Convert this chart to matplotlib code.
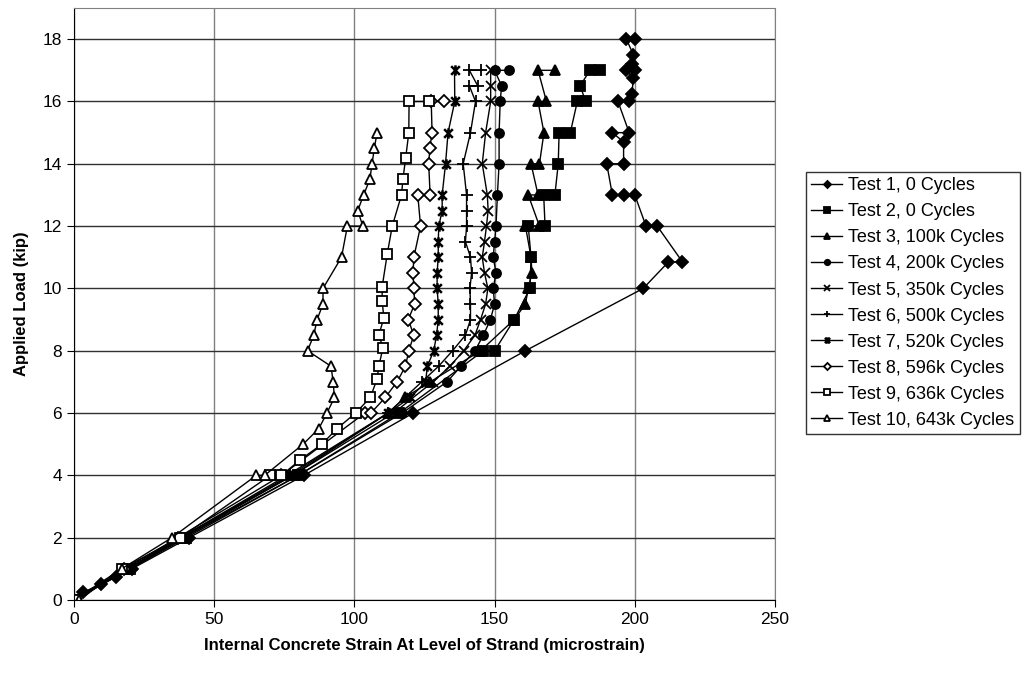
import matplotlib
matplotlib.use('Agg')
import matplotlib.pyplot as plt
from matplotlib.path import Path

plt.rcParams['font.family'] = ['Liberation Sans', 'DejaVu Sans']

# strain (microstrain) and load (kip) for each test
t1_strain = [0, 3.3, 9.6, 15, 20.6, 41, 82, 121, 161, 203, 212, 217, 208, 204, 200, 196, 192, 190, 196, 196, 192, 198, 194, 198, 199, 199.5, 197, 200, 199, 199.5, 197, 200]
t1_load = [0, 0.25, 0.5, 0.75, 1, 2, 4, 6, 8, 10, 10.85, 10.85, 12, 12, 13, 13, 13, 14, 14, 14.7, 15, 15, 16, 16, 16.25, 16.75, 17, 17, 17.2, 17.5, 18, 18]

t2_strain = [0, 20, 40, 80, 116, 146, 150, 157, 162.6, 163, 162, 168, 167.5, 171.5, 172.7, 173, 177, 179.5, 182.5, 180.5, 184, 187.5]
t2_load = [0, 1, 2, 4, 6, 8, 8, 9, 10, 11, 12, 12, 13, 13, 14, 15, 15, 16, 16, 16.5, 17, 17]

t3_strain = [0, 19, 39, 78, 112, 118, 127, 145, 157, 161, 162, 163.3, 163, 161, 166, 162, 165.5, 163, 166, 167.6, 165.5, 168.5, 165.5, 171.5]
t3_load = [0, 1, 2, 4, 6, 6.5, 7, 8, 9, 9.5, 10, 10.5, 11, 12, 12, 13, 13, 14, 14, 15, 16, 16, 17, 17]

t4_strain = [0, 20, 39, 80, 117, 133, 138, 143, 146, 148.5, 150, 149.5, 150.5, 149.5, 150, 150.5, 151, 151.6, 151.6, 152, 152.5, 150, 155]
t4_load = [0, 1, 2, 4, 6, 7, 7.5, 8, 8.5, 9, 9.5, 10, 10.5, 11, 11.5, 12, 13, 14, 15, 16, 16.5, 17, 17]

t5_strain = [0, 19, 38, 78, 114, 128, 134, 139, 143, 145, 146.8, 147.6, 146.4, 145.6, 146.4, 147.1, 147.7, 147.4, 145.6, 146.8, 148.6, 148.6, 148.6]
t5_load = [0, 1, 2, 4, 6, 7, 7.5, 8, 8.5, 9, 9.5, 10, 10.5, 11, 11.5, 12, 12.5, 13, 14, 15, 16, 16.5, 17]

t6_strain = [0, 19, 38, 77, 112, 124, 130, 135, 139.6, 141.4, 141.4, 141.2, 141.8, 141.4, 139.6, 140, 140, 140, 138.8, 141.4, 143.2, 141, 144, 141, 145]
t6_load = [0, 1, 2, 4, 6, 7, 7.5, 8, 8.5, 9, 9.5, 10, 10.5, 11, 11.5, 12, 12.5, 13, 14, 15, 16, 16.5, 16.5, 17, 17]

t7_strain = [0, 19, 38, 76, 112, 120, 125.4, 126, 128.3, 129.3, 129.9, 129.9, 129.5, 129.5, 129.9, 129.9, 130.1, 131.3, 131.3, 132.5, 133.4, 135.8, 135.7]
t7_load = [0, 1, 2, 4, 6, 6.5, 7, 7.5, 8, 8.5, 9, 9.5, 10, 10.5, 11, 11.5, 12, 12.5, 13, 14, 15, 16, 17]

t8_strain = [0, 18, 37, 74, 103.7, 105.9, 111, 115.2, 118.2, 119.4, 121.2, 119.2, 121.5, 121.2, 120.9, 121.2, 123.6, 122.6, 127, 126.5, 126.9, 127.7, 127.4, 132]
t8_load = [0, 1, 2, 4, 6, 6, 6.5, 7, 7.5, 8, 8.5, 9, 9.5, 10, 10.5, 11, 12, 13, 13, 14, 14.5, 15, 16, 16]

t9_strain = [0, 17, 37.9, 70, 74, 80.7, 88.4, 93.8, 100.4, 105.7, 108.1, 108.7, 110.2, 108.7, 110.5, 109.9, 109.9, 111.7, 113.5, 116.8, 117.3, 118.3, 119.4, 119.5, 126.5]
t9_load = [0, 1, 2, 4, 4, 4.5, 5, 5.5, 6, 6.5, 7.1, 7.5, 8.1, 8.5, 9.05, 9.6, 10.05, 11.1, 12, 13, 13.5, 14.2, 15, 16, 16]

t10_strain = [1.9, 17, 34.9, 65, 68, 81.7, 87.3, 90.2, 92.9, 92.4, 91.7, 83.3, 85.5, 86.7, 88.8, 88.8, 95.4, 97.5, 103, 101.2, 103.3, 105.5, 106.3, 107.1, 108.1]
t10_load = [0, 1, 2, 4, 4, 5, 5.5, 6, 6.5, 7, 7.5, 8, 8.5, 9, 9.5, 10, 11, 12, 12, 12.5, 13, 13.5, 14, 14.5, 15]

labels = ['Test 1, 0 Cycles', 'Test 2, 0 Cycles', 'Test 3, 100k Cycles',
          'Test 4, 200k Cycles', 'Test 5, 350k Cycles', 'Test 6, 500k Cycles',
          'Test 7, 520k Cycles', 'Test 8, 596k Cycles', 'Test 9, 636k Cycles',
          'Test 10, 643k Cycles']

# excel style star: an X with a vertical bar
star = Path([(-1, -1), (1, 1), (-1, 1), (1, -1), (0, -1.2), (0, 1.2)],
            [Path.MOVETO, Path.LINETO, Path.MOVETO, Path.LINETO, Path.MOVETO, Path.LINETO])

series = [
    (t1_strain, t1_load, 'D', 'k', 6),
    (t2_strain, t2_load, 's', 'k', 6.5),
    (t3_strain, t3_load, '^', 'k', 7),
    (t4_strain, t4_load, 'o', 'k', 6.5),
    (t5_strain, t5_load, 'x', 'k', 6.5),
    (t6_strain, t6_load, '+', 'k', 8),
    (t7_strain, t7_load, star, 'k', 7.5),
    (t8_strain, t8_load, 'D', 'w', 6),
    (t9_strain, t9_load, 's', 'w', 6.5),
    (t10_strain, t10_load, '^', 'w', 7),
]

fig = plt.figure(figsize=(10.26, 6.73), dpi=100)
ax = fig.add_axes([74/1026, 73/673, 701/1026, 592/673])

for (xs, ys, mk, fc, ms), lab in zip(series, labels):
    ax.plot(xs, ys, color='k', lw=1.0, marker=mk, markersize=ms,
            markerfacecolor=fc, markeredgecolor='k',
            markeredgewidth=1.8 if mk is star else 1.3, label=lab)

ax.set_xlim(0, 250)
ax.set_ylim(0, 19)
ax.set_xticks(range(0, 251, 50))
ax.set_yticks(range(0, 19, 2))
ax.grid(True, axis='y', color='#303030', lw=1.0)
ax.grid(True, axis='x', color='#808080', lw=1.0)
ax.set_axisbelow(True)
ax.spines['top'].set_color('#808080')
ax.spines['right'].set_color('#808080')
ax.tick_params(direction='out', length=5, labelsize=12.5, colors='k')

ax.set_xlabel('Internal Concrete Strain At Level of Strand (microstrain)',
              fontsize=12, fontweight='bold', labelpad=8)
ax.set_ylabel('Applied Load (kip)', fontsize=12, fontweight='bold', labelpad=10)

leg = fig.legend(loc='upper left', bbox_to_anchor=(806/1026, 1 - 172/673),
                 fontsize=13, frameon=True, fancybox=False, markerscale=0.6,
                 handlelength=1.7, borderpad=0.3, labelspacing=0.5,
                 handletextpad=0.35, borderaxespad=0)
leg.get_frame().set_edgecolor('k')
leg.get_frame().set_linewidth(1.0)

fig.savefig('out.png', dpi=100)
